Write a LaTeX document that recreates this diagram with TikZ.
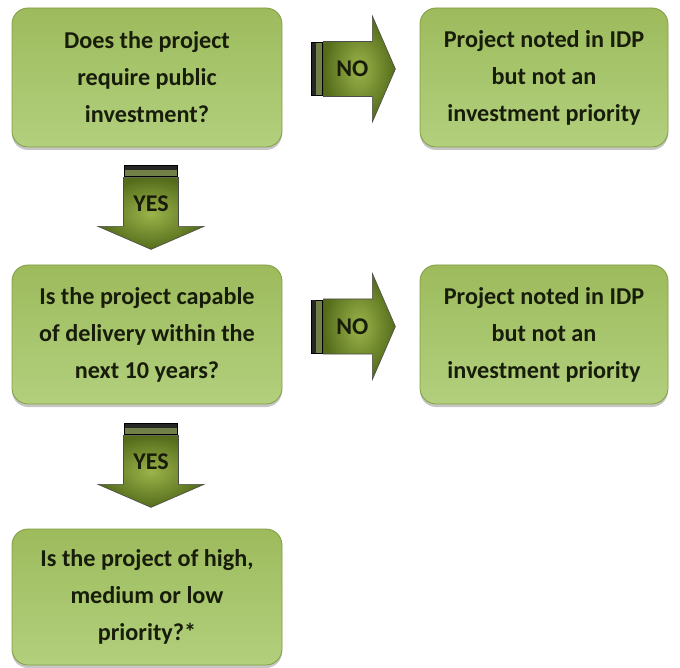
\documentclass[tikz,border=0pt]{standalone}
\usepackage{fontspec}
\setmainfont{Carlito}
\usetikzlibrary{shadows}

\definecolor{boxtop}{RGB}{157,187,92}
\definecolor{boxbot}{RGB}{178,208,125}
\definecolor{boxrim}{RGB}{128,158,66}
\definecolor{arrowin}{RGB}{156,180,74}
\definecolor{arrowout}{RGB}{84,108,26}
\definecolor{barcol}{RGB}{112,128,70}
\definecolor{ink}{RGB}{24,28,10}

\tikzset{
  box/.style={draw=boxrim, line width=.8pt, rounded corners=16pt,
    top color=boxtop, bottom color=boxbot,
    minimum width=270pt, minimum height=139pt,
    align=center, text=ink, font=\bfseries\fontsize{24.2}{37}\selectfont,
    drop shadow={shadow xshift=0pt, shadow yshift=-3pt, opacity=.45}},
  lbl/.style={text=ink, font=\bfseries\fontsize{24}{28}\selectfont},
  % block arrow pointing along +x, tail at the origin
  pics/blockarrow/.style={code={
    \shade[draw=black!70, line width=.6pt, inner color=arrowin, outer color=arrowout]
      (12,-27.5) -- (61,-27.5) -- (61,-53) -- (84,0) -- (61,53) -- (61,27.5)
      -- (12,27.5) -- cycle;
    \draw[fill=barcol, line width=.7pt] (0,-26.5) rectangle (11,26.5);
    \fill[black!85] (.5,-26) rectangle (5,26);
  }}
}

\begin{document}
\begin{tikzpicture}[x=1pt, y=-1pt]
  \useasboundingbox (0,0) rectangle (680,668);

  % questions down the left, outcomes on the right
  \node[box] (q1) at (147,77.5) {Does the project\\require public\\investment?};
  \node[box, minimum width=248pt] (n1) at (544,77.5) {Project noted in IDP\\but not an\\investment priority};
  \node[box] (q2) at (147,334.5) {Is the project capable\\of delivery within the\\next 10 years?};
  \node[box, minimum width=248pt] (n2) at (544,334.5) {Project noted in IDP\\but not an\\investment priority};
  \node[box, minimum height=136pt] (q3) at (147,597) {Is the project of high,\\medium or low\\priority?*};

  % arrow tails
  \coordinate (t1) at ([shift={(29,-8.5)}]q1.east);
  \coordinate (t2) at ([shift={(29,-8)}]q2.east);
  \coordinate (t3) at ([shift={(4,18)}]q1.south);
  \coordinate (t4) at ([shift={(4,19)}]q2.south);

  \pic at (t1) {blockarrow};
  \pic at (t2) {blockarrow};
  \pic[rotate=-90] at (t3) {blockarrow};
  \pic[rotate=-90] at (t4) {blockarrow};

  \node[lbl] (no1) at ([shift={(41,0)}]t1) {NO};
  \node[lbl] (no2) at ([shift={(41,0)}]t2) {NO};
  \node[lbl] (yes1) at ([shift={(0,38)}]t3) {YES};
  \node[lbl] (yes2) at ([shift={(0,38)}]t4) {YES};
\end{tikzpicture}
\end{document}
